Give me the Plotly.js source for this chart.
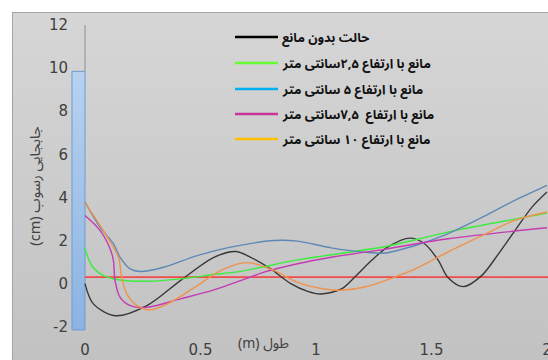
<!DOCTYPE html>
<html>
<head>
<meta charset="utf-8">
<script src="https://cdn.plot.ly/plotly-3.0.1.min.js"></script>
<style>
  html, body { margin: 0; padding: 0; background: #ffffff; }
  #chart { width: 548px; height: 360px; }
</style>
</head>
<body>
<div id="chart"></div>
<script>
// Sediment displacement (cm) along the flume length (m) for each barrier height.

const seriesNames = [
  'حالت بدون مانع',
  'مانع با ارتفاع ۲,۵سانتی متر',
  'مانع با ارتفاع ۵ سانتی متر',
  'مانع با ارتفاع  ۷,۵سانتی متر',
  'مانع با ارتفاع ۱۰ سانتی متر'
];
const curveColors  = ['#383838', '#3cec3c', '#5d88b6', '#c43bb2', '#f0924c'];
const legendColors = ['#000000', '#66ff33', '#00b0f0', '#cc3399', '#ffc000'];

// no barrier
const xNone = [0, 0.036, 0.13, 0.268, 0.413, 0.558, 0.652, 0.717, 0.804, 0.891, 0.964, 1.02, 1.11, 1.167, 1.24, 1.31, 1.406, 1.47, 1.53, 1.57, 1.638, 1.717, 1.79, 1.862, 1.935, 2.0];
const yNone = [0, -0.94, -1.49, -1.02, 0.14, 1.22, 1.49, 1.22, 0.68, 0, -0.36, -0.48, -0.25, 0.29, 1.07, 1.69, 2.11, 1.85, 1.07, 0.3, -0.14, 0.37, 1.38, 2.47, 3.55, 4.25];

// barrier 2.5 cm
const x25 = [0, 0.029, 0.08, 0.152, 0.268, 0.413, 0.558, 0.674, 0.92, 1.3, 1.57, 2.0];
const y25 = [1.66, 0.84, 0.37, 0.17, 0.11, 0.22, 0.42, 0.57, 1.10, 1.72, 2.39, 3.27];

// barrier 5 cm
const x5 = [0, 0.065, 0.123, 0.152, 0.196, 0.239, 0.34, 0.486, 0.63, 0.82, 0.92, 1.065, 1.21, 1.3, 1.43, 1.57, 1.72, 1.86, 2.0];
const y5 = [3.78, 2.62, 1.85, 1.22, 0.68, 0.56, 0.76, 1.30, 1.69, 2.0, 1.97, 1.66, 1.46, 1.42, 1.77, 2.31, 3.08, 3.86, 4.56];

// barrier 7.5 cm
const x75 = [0, 0.065, 0.109, 0.123, 0.13, 0.152, 0.196, 0.268, 0.413, 0.558, 0.674, 0.775, 0.92, 1.065, 1.3, 1.572, 2.0];
const y75 = [3.16, 2.47, 1.61, 1.07, 0.14, -0.64, -1.02, -1.1, -0.71, -0.29, 0.14, 0.53, 0.92, 1.22, 1.6, 2.08, 2.59];

// barrier 10 cm
const x10 = [0, 0.05, 0.1, 0.145, 0.159, 0.181, 0.225, 0.283, 0.37, 0.486, 0.587, 0.674, 0.72, 0.82, 0.92, 1.036, 1.11, 1.21, 1.32, 1.43, 1.57, 1.72, 1.86, 2.0];
const y10 = [3.75, 2.95, 2.1, 1.22, 0.29, -0.48, -1.02, -1.22, -0.87, -0.09, 0.6, 0.94, 0.96, 0.6, 0.06, -0.25, -0.31, -0.16, 0.22, 0.68, 1.46, 2.23, 2.93, 3.32];

// reference bed level
const refX = [0, 2.1];
const refY = [0.3, 0.3];

// barrier plate at the channel entrance
const plateX = [-0.0282];
const plateWidth = [0.0563];
const plateBottom = [-2.15];
const plateTop = [9.85];

const xTicks = [0, 0.5, 1, 1.5, 2];
const xTickLabels = ['0', '0.5', '1', '1.5', '2'];
const yTicks = [-2, 0, 2, 4, 6, 8, 10, 12];
const yTickLabels = ['-2', '0', '2', '4', '6', '8', '10', '12'];

const xTitle = 'طول (m)';
const yTitle = 'جابجایی رسوب (cm)';

// right-to-left embedding so mixed Persian/Latin strings keep their reading order
const rtl = s => '\u202B' + s + '\u202C';

// The subplot fills the whole gray panel; the axes sit inside it at fixed positions.
const W = 548, H = 360;
const M = { l: 12, r: 0, t: 12, b: 0 };
const plotW = W - M.l - M.r, plotH = H - M.t - M.b;
const px = v => (v - M.l) / plotW;        // pixel column -> paper x
const py = v => (H - M.b - v) / plotH;    // pixel row -> paper y

// data scale: x = 0 at column 85, 231 px per metre; y = 0 at row 283.6, 21.55 px per cm
const X0PX = 85, XPX = 231, Y0PX = 283.6, YPX = 21.55;
const dataX = p => (p - X0PX) / XPX;
const dataY = p => (Y0PX - p) / YPX;
const xRange = [dataX(M.l), dataX(W - M.r)];
const yRange = [dataY(H - M.b), dataY(M.t)];

const curves = [[xNone, yNone], [x25, y25], [x5, y5], [x75, y75], [x10, y10]];
const closedRect = (x0, x1, y0, y1) => ({ x: [x0, x1, x1, x0, x0], y: [y0, y0, y1, y1, y0] });

const traces = [];

// gray panel with a vertical gradient; its left and top edges form the frame
const panel = closedRect(xRange[0], xRange[1] + 1, yRange[0] - 1, yRange[1]);
traces.push({
  type: 'scatter', mode: 'lines', x: panel.x, y: panel.y, fill: 'toself',
  fillgradient: { type: 'vertical', start: yRange[0], stop: yRange[1],
    colorscale: [[0, '#c2c2c2'], [1, '#d6d6d6']] },
  line: { color: '#a3a3a3', width: 2 }, hoverinfo: 'skip', showlegend: false
});

// barrier plate
plateX.forEach((cx, i) => {
  const r = closedRect(cx - plateWidth[i] / 2, cx + plateWidth[i] / 2, plateBottom[i], plateTop[i]);
  traces.push({
    type: 'scatter', mode: 'lines', x: r.x, y: r.y, fill: 'toself',
    fillgradient: { type: 'vertical', start: plateBottom[i], stop: plateTop[i],
      colorscale: [[0, '#8cb3e2'], [1, '#b8d1ef']] },
    line: { color: '#6b9dd6', width: 1 }, hoverinfo: 'skip', showlegend: false
  });
});

traces.push({
  type: 'scatter', mode: 'lines', x: refX, y: refY,
  line: { color: '#f04a4a', width: 1.8 }, showlegend: false, hoverinfo: 'skip'
});
curves.forEach((c, i) => {
  traces.push({
    type: 'scatter', mode: 'lines', name: seriesNames[i], x: c[0], y: c[1],
    line: { color: curveColors[i], width: 1.4, shape: 'spline', smoothing: 0.9 },
    showlegend: false
  });
});

const shapes = [];
// faint horizontal axis at y = 0 and the value axis at x = 0
shapes.push({ type: 'line', xref: 'x', yref: 'y', x0: 0, x1: xRange[1] + 1, y0: 0, y1: 0,
  line: { color: '#dcdcdc', width: 1.2 }, layer: 'below' });
shapes.push({ type: 'line', xref: 'x', yref: 'y', x0: 0, x1: 0, y0: plateTop[0], y1: yTicks[yTicks.length - 1],
  line: { color: '#8e8e8e', width: 1 }, layer: 'above' });

const arabicFont = 'Noto Sans Arabic, DejaVu Sans, sans-serif';
const legendRows = [37, 63, 89, 114, 139];
const annotations = [];
seriesNames.forEach((n, i) => {
  shapes.push({ type: 'line', xref: 'paper', yref: 'paper', x0: px(235), x1: px(278),
    y0: py(legendRows[i]), y1: py(legendRows[i]), line: { color: legendColors[i], width: 2.5 } });
  annotations.push({ xref: 'paper', yref: 'paper', x: px(281), y: py(legendRows[i]),
    xanchor: 'left', yanchor: 'middle', showarrow: false, text: rtl(n), borderpad: 0,
    font: { family: arabicFont, size: 12.8, color: '#111111', weight: 'bold' } });
});
annotations.push({ xref: 'paper', yref: 'paper', x: px(263), y: py(343), xanchor: 'center', yanchor: 'middle',
  showarrow: false, text: rtl(xTitle), font: { family: arabicFont, size: 14, color: '#404040' } });

const tickFont = { family: 'DejaVu Sans, sans-serif', size: 15, color: '#404040' };

const layout = {
  width: W, height: H, margin: M,
  paper_bgcolor: '#ffffff', plot_bgcolor: '#cbcbcb',
  showlegend: false,
  xaxis: {
    range: xRange, tickvals: xTicks, ticktext: xTickLabels,
    anchor: 'free', position: py(330),
    showgrid: false, zeroline: false, showline: false, ticks: '', ticklabelstandoff: 9,
    ticklabeloverflow: 'allow', tickfont: tickFont, fixedrange: true
  },
  yaxis: {
    range: yRange, tickvals: yTicks, ticktext: yTickLabels,
    anchor: 'free', position: px(72),
    showgrid: false, zeroline: false, showline: false, ticks: '', ticklabelstandoff: 4,
    ticklabeloverflow: 'allow', tickfont: tickFont,
    title: { text: rtl(yTitle), standoff: 3, font: { family: arabicFont, size: 14.5, color: '#404040' } },
    fixedrange: true
  },
  shapes: shapes,
  annotations: annotations
};

Plotly.newPlot('chart', traces, layout, { displayModeBar: false, staticPlot: true });
</script>
</body>
</html>
